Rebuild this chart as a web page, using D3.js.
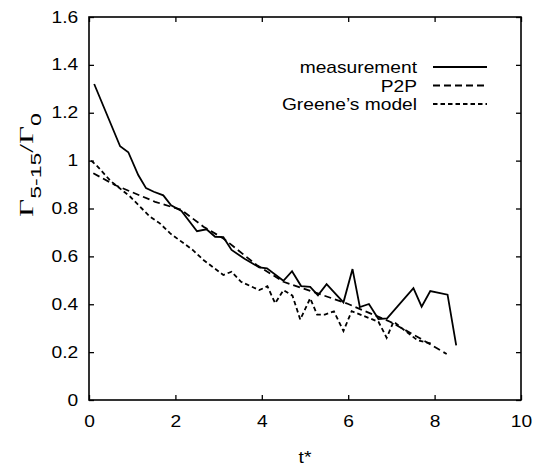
<!DOCTYPE html>
<html>
<head>
<meta charset="utf-8">
<script src="https://cdn.jsdelivr.net/npm/d3@7"></script>
<style>
  html, body { margin: 0; padding: 0; background: #fff; }
  svg { display: block; }
  text { font-family: "Liberation Sans", Arial, Helvetica, sans-serif; fill: #000; }
</style>
</head>
<body>
<svg id="chart" width="533" height="466"></svg>
<script>
// ---- data ----
const measT = [0.12, 0.72, 0.91, 1.14, 1.32, 1.5, 1.72, 1.9, 2.14, 2.5, 2.72, 2.92, 3.11, 3.30, 3.6, 3.94, 4.12, 4.5, 4.7, 4.91, 5.12, 5.3, 5.5, 5.89, 6.10, 6.27, 6.48, 6.70, 6.9, 7.51, 7.70, 7.90, 8.3, 8.5];
const measV = [1.32, 1.06, 1.035, 0.94, 0.885, 0.87, 0.855, 0.813, 0.79, 0.705, 0.713, 0.682, 0.68, 0.627, 0.59, 0.554, 0.55, 0.498, 0.538, 0.476, 0.473, 0.437, 0.484, 0.408, 0.547, 0.388, 0.401, 0.338, 0.341, 0.467, 0.39, 0.455, 0.44, 0.228];

const p2pT = [0.1, 0.6, 1.53, 2.14, 2.65, 3.11, 3.88, 4.5, 4.96, 5.96, 6.97, 7.66, 8.28];
const p2pV = [0.947, 0.898, 0.828, 0.794, 0.724, 0.675, 0.564, 0.494, 0.466, 0.404, 0.327, 0.258, 0.192];

const greeneT = [0.05, 0.2, 0.5, 0.95, 1.41, 1.64, 1.88, 2.4, 2.65, 3.11, 3.30, 3.52, 3.94, 4.13, 4.31, 4.50, 4.71, 4.89, 5.12, 5.28, 5.46, 5.67, 5.89, 6.08, 6.70, 6.89, 7.05, 7.6, 7.95];
const greeneV = [1.0, 0.975, 0.915, 0.85, 0.766, 0.738, 0.696, 0.627, 0.585, 0.522, 0.536, 0.494, 0.459, 0.475, 0.404, 0.459, 0.436, 0.336, 0.425, 0.357, 0.357, 0.37, 0.288, 0.371, 0.327, 0.26, 0.327, 0.25, 0.235];

const xTicks = [0, 2, 4, 6, 8, 10];
const yTicks = [0, 0.2, 0.4, 0.6, 0.8, 1, 1.2, 1.4, 1.6];
const seriesNames = ["measurement", "P2P", "Greene\u2019s model"];
const seriesDash = [null, "7,4", "4.5,3"];

// ---- layout ----
const svg = d3.select("#chart");
const L = 89, R = 521, T = 17, B = 400;
const x = d3.scaleLinear().domain([0, 10]).range([L, R]);
const y = d3.scaleLinear().domain([0, 1.6]).range([B, T]);
const SX = 1.2;

// axes (inward ticks on all four sides)
const gB = svg.append("g").attr("transform", `translate(0,${B})`)
  .call(d3.axisBottom(x).tickValues(xTicks).tickSize(-5).tickSizeOuter(0).tickPadding(16).tickFormat(d3.format("d")));
const gL = svg.append("g").attr("transform", `translate(${L},0)`)
  .call(d3.axisLeft(y).tickValues(yTicks).tickSize(-5).tickSizeOuter(0).tickPadding(9).tickFormat(d => String(+d.toFixed(1))));
const gT = svg.append("g").attr("transform", `translate(0,${T})`)
  .call(d3.axisTop(x).tickValues(xTicks).tickSize(-5).tickSizeOuter(0).tickFormat(""));
const gR = svg.append("g").attr("transform", `translate(${R},0)`)
  .call(d3.axisRight(y).tickValues(yTicks).tickSize(-5).tickSizeOuter(0).tickFormat(""));

[gB, gL, gT, gR].forEach(g => {
  g.select(".domain").remove();
  g.selectAll(".tick line").attr("stroke", "#000").attr("stroke-width", 1.3);
  g.selectAll(".tick text")
    .style("font-family", '"Liberation Sans", Arial, sans-serif')
    .style("font-size", "16px")
    .attr("fill", "#000")
    .attr("transform", `scale(${SX},1)`);
});
gB.selectAll(".tick text").attr("dy", "0").attr("y", 27);

// frame
svg.append("rect")
  .attr("x", L).attr("y", T).attr("width", R - L).attr("height", B - T)
  .attr("fill", "none").attr("stroke", "#000").attr("stroke-width", 1.6);

// lines
const line = d3.line().x(d => x(d[0])).y(d => y(d[1]));
const series = [d3.zip(measT, measV), d3.zip(p2pT, p2pV), d3.zip(greeneT, greeneV)];
series.forEach((s, i) => {
  svg.append("path")
    .datum(s)
    .attr("d", line)
    .attr("fill", "none")
    .attr("stroke", "#000")
    .attr("stroke-width", 1.8)
    .attr("stroke-linejoin", "miter")
    .attr("stroke-dasharray", seriesDash[i]);
});

// legend
const legRows = [67, 85.5, 104];
seriesNames.forEach((name, i) => {
  svg.append("text")
    .attr("transform", `translate(417,${legRows[i] + 6}) scale(${SX},1)`)
    .attr("text-anchor", "end")
    .style("font-size", "16px")
    .text(name);
  svg.append("line")
    .attr("x1", 433).attr("x2", 487)
    .attr("y1", legRows[i]).attr("y2", legRows[i])
    .attr("stroke", "#000").attr("stroke-width", 1.8)
    .attr("stroke-dasharray", seriesDash[i]);
});

// x title
svg.append("text")
  .attr("transform", `translate(305,463) scale(${SX},1)`)
  .attr("text-anchor", "middle")
  .style("font-size", "16px")
  .text("t*");

// y title: Γ_{5-15}/Γ_0
const yt = svg.append("text")
  .attr("text-anchor", "middle")
  .style("font-size", "19px");
yt.append("tspan").style("font-family", '"Liberation Serif", "Times New Roman", serif').text("\u0393");
yt.append("tspan").style("font-size", "14px").attr("dy", 8).text("5-15");
yt.append("tspan").style("font-family", '"Liberation Serif", "Times New Roman", serif').attr("dy", -8).text("/\u0393");
yt.append("tspan").style("font-size", "14px").attr("dy", 8).text("0");
const natural = yt.node().getComputedTextLength();
const stretch = 104 / natural;
yt.attr("transform", `translate(33,165) scale(1,${stretch}) rotate(-90)`);
</script>
</body>
</html>
